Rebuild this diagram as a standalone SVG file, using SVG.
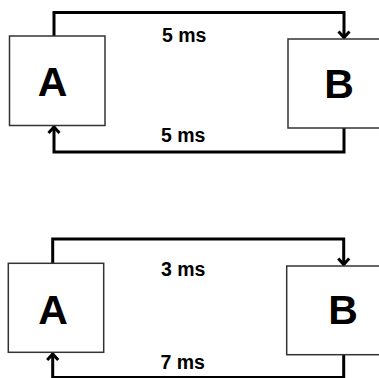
<svg xmlns="http://www.w3.org/2000/svg" width="379" height="378" viewBox="0 0 379 378">
<defs>
<style>
.box{fill:#fff;stroke:#333;stroke-width:1.5}
.big{font-family:"Liberation Sans",Arial,sans-serif;font-weight:bold;font-size:41px;fill:#000;text-anchor:middle}
.lbl{font-family:"Liberation Sans",Arial,sans-serif;font-weight:bold;font-size:19.5px;fill:#000}
.conn{fill:none;stroke:#000;stroke-width:3;marker-end:url(#arr)}
</style>
<marker id="arr" markerUnits="userSpaceOnUse" viewBox="-9 -8 12 16" markerWidth="12" markerHeight="16" refX="0" refY="0" orient="auto" overflow="visible">
<path d="M-6.5,-5.5 L-0.5,0 L-6.5,5.5" fill="none" stroke="#000" stroke-width="3"/>
</marker>
</defs>
<rect width="379" height="378" fill="#fff"/>
<g id="connectors">
<path class="conn" d="M54,36 V12.5 H344 V38"/>
<path class="conn" d="M344,128 V152 H54 V126.5"/>
<path class="conn" d="M52.7,263 V239 H343.7 V265"/>
<path class="conn" d="M343.7,355 V377.5 H52.7 V353.5"/>
</g>
<g id="A1"><rect class="box" x="9.5" y="36" width="95.5" height="89.5"/><text class="big" x="52.5" y="95.5">A</text></g>
<g id="B1"><rect class="box" x="288" y="39" width="100" height="89"/><text class="big" x="339" y="98">B</text></g>
<g id="A2"><rect class="box" x="8.3" y="263.3" width="95.4" height="89"/><text class="big" x="53" y="324">A</text></g>
<g id="B2"><rect class="box" x="286.7" y="266" width="100" height="88.7"/><text class="big" x="343" y="324">B</text></g>
<g id="labels">
<text class="lbl" x="162" y="41.7">5 ms</text>
<text class="lbl" x="161" y="142.3">5 ms</text>
<text class="lbl" x="161" y="275.7">3 ms</text>
<text class="lbl" x="160.5" y="369.3">7 ms</text>
</g>
</svg>
